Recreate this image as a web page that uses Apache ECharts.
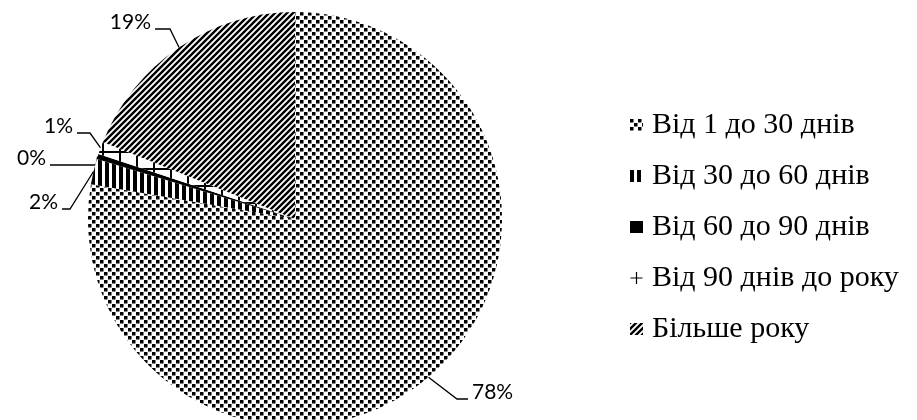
<!DOCTYPE html>
<html>
<head>
<meta charset="utf-8">
<script src="https://cdn.jsdelivr.net/npm/echarts@6/dist/echarts.min.js"></script>
<style>
  html, body { margin: 0; padding: 0; background: #fff; }
  #chart { width: 917px; height: 420px; }
</style>
</head>
<body>
<div id="chart"></div>
<script>
// категорії та частки (%)
const categories = ['Від 1 до 30 днів', 'Від 30 до 60 днів', 'Від 60 до 90 днів', 'Від 90 днів до року', 'Більше року']
const values = [78, 2, 0.4, 1, 19]

// штрихування як у Excel
const makeTile = (w, h, draw) => {
  const c = document.createElement('canvas')
  c.width = w
  c.height = h
  const ctx = c.getContext('2d')
  ctx.fillStyle = '#fff'
  ctx.fillRect(0, 0, w, h)
  ctx.fillStyle = '#000'
  ctx.strokeStyle = '#000'
  draw(ctx)
  return { image: c, repeat: 'repeat' }
}

const patterns = [
  // крапки
  makeTile(8, 8, ctx => {
    ctx.fillRect(0, 0, 3.5, 3.5)
    ctx.fillRect(4, 4, 3.5, 3.5)
  }),
  // вертикальні смуги
  makeTile(7, 7, ctx => {
    ctx.fillRect(0, 0, 4, 7)
  }),
  // суцільний
  '#000',
  // сітка
  makeTile(17, 17, ctx => {
    ctx.fillRect(0, 0, 2, 17)
    ctx.fillRect(0, 15, 17, 2)
  }),
  // діагональ
  makeTile(6, 6, ctx => {
    ctx.lineWidth = 2.4
    ctx.beginPath()
    ctx.moveTo(-1, 7); ctx.lineTo(7, -1)
    ctx.moveTo(-4, 4); ctx.lineTo(4, -4)
    ctx.moveTo(2, 10); ctx.lineTo(10, 2)
    ctx.stroke()
  })
]

// куди винесено підписи: [x зламу, y полички, x кінця]
const labelSpots = [
  [457, 399, 468],
  [70, 209, 62],
  [96, 165, 50],
  [90, 133, 77],
  [170, 29, 155]
]

const plusIcon = 'path://M6.3,0H7.7V6.3H14V7.7H7.7V14H6.3V7.7H0V6.3H6.3Z'

const chart = echarts.init(document.getElementById('chart'))
chart.setOption({
  animation: false,
  legend: {
    orient: 'vertical',
    left: 625,
    top: 105,
    itemGap: 21,
    itemWidth: 13,
    itemHeight: 12,
    icon: 'rect',
    data: categories.map((name, i) => (i === 3
      ? { name, icon: plusIcon, itemStyle: { color: '#000' } }
      : { name })),
    textStyle: {
      fontFamily: 'Liberation Serif',
      fontSize: 30,
      lineHeight: 30,
      color: '#000',
      padding: [0, 0, 0, 4]
    }
  },
  series: [{
    type: 'pie',
    center: [295, 219],
    radius: 207,
    startAngle: 90,
    clockwise: true,
    avoidLabelOverlap: false,
    data: categories.map((name, i) => ({
      name,
      value: values[i],
      itemStyle: { color: patterns[i] }
    })),
    label: {
      show: true,
      position: 'outside',
      formatter: p => Math.round(p.percent) + '%',
      fontFamily: 'Lato',
      fontSize: 21,
      color: '#000'
    },
    labelLine: {
      show: true,
      length: 20,
      length2: 10,
      lineStyle: { color: '#000', width: 1.3 }
    },
    labelLayout: p => {
      const s = labelSpots[p.dataIndex]
      const edge = p.labelLinePoints ? p.labelLinePoints[0] : [s[0], s[1]]
      const right = s[2] > s[0]
      return {
        x: right ? s[2] + 4 : s[2] - 4,
        y: s[1] - 7,
        align: right ? 'left' : 'right',
        verticalAlign: 'middle',
        labelLinePoints: [edge, [s[0], s[1]], [s[2], s[1]]]
      }
    },
    emphasis: { disabled: true }
  }]
})
</script>
</body>
</html>
